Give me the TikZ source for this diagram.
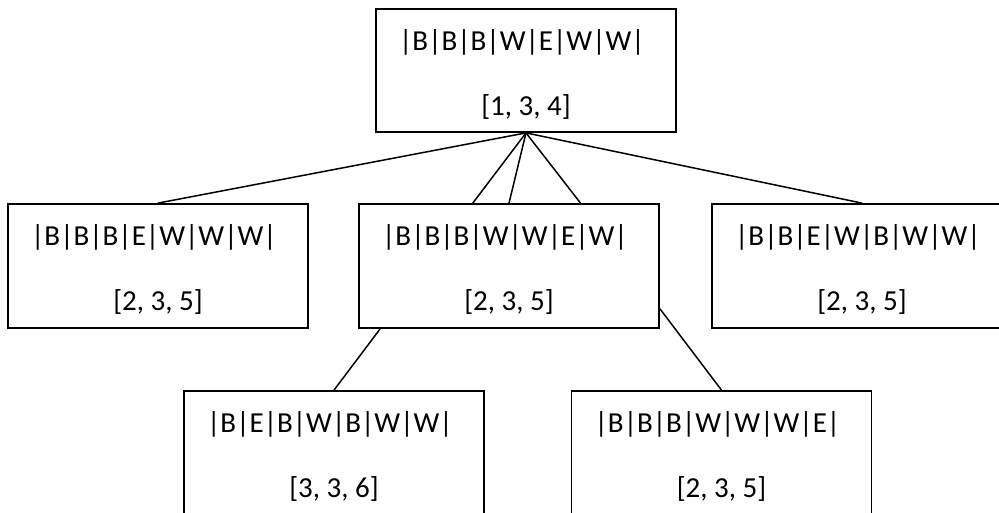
\documentclass[tikz,border=0pt]{standalone}
\usepackage{fontspec}
\setmainfont{Carlito}
\usetikzlibrary{calc}
\tikzset{
  statebox/.style={draw=black, line width=1.8pt, rectangle, minimum width=300pt, minimum height=124pt, inner sep=0pt},
  txt/.style={anchor=base, inner sep=0pt, font=\fontsize{29}{35}\selectfont},
  conn/.style={draw=black, line width=1.5pt}
}
\newcommand{\boxtext}[3]{%
  \node[txt] (#1-l1) at ($(#1.north)+(-4,42)$) {#2};
  \node[txt] (#1-l2) at ($(#1.north)+(0,107)$) {#3};
}
\begin{document}
\begin{tikzpicture}[x=1pt,y=-1pt]
\useasboundingbox (0,0) rectangle (999,512);
\node[statebox, minimum height=123pt] (root) at (526,70.5) {};
\node[statebox] (left) at (158,266) {};
\node[statebox] (mid) at (509,266) {};
\node[statebox] (right) at (862,266) {};
\node[statebox] (bl) at (334,453) {};
\node[statebox] (br) at (721.5,453) {};
\boxtext{root}{|B|B|B|W|E|W|W|}{[1, 3, 4]}
\boxtext{left}{|B|B|B|E|W|W|W|}{[2, 3, 5]}
\boxtext{mid}{|B|B|B|W|W|E|W|}{[2, 3, 5]}
\boxtext{right}{|B|B|E|W|B|W|W|}{[2, 3, 5]}
\boxtext{bl}{|B|E|B|W|B|W|W|}{[3, 3, 6]}
\boxtext{br}{|B|B|B|W|W|W|E|}{[2, 3, 5]}
\draw[conn] (root.south) -- (left.north);
\draw[conn] (root.south) -- ($(mid.north west)!0.38!(mid.north east)$);
\draw[conn] (root.south) -- (mid.north);
\draw[conn] (root.south) -- ($(mid.north west)!0.737!(mid.north east)$);
\draw[conn] (root.south) -- (right.north);
\draw[conn] ($(mid.south west)!0.073!(mid.south east)$) -- (bl.north);
\draw[conn] ($(mid.south east)!0.16!(mid.north east)$) -- (br.north);
\end{tikzpicture}
\end{document}
